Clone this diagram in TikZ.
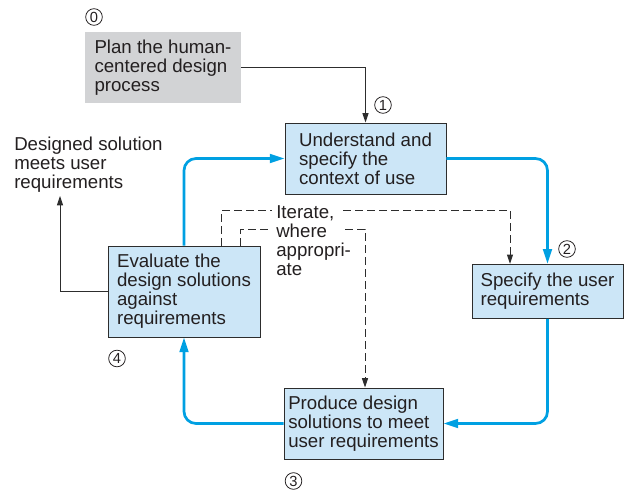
\documentclass[tikz,border=0pt]{standalone}
\usepackage{fontspec}
\setmainfont{Liberation Sans}
\usetikzlibrary{arrows.meta,calc}
\definecolor{bfill}{RGB}{204,230,247}
\definecolor{gfill}{RGB}{210,211,213}
\definecolor{bline}{RGB}{0,160,226}
\definecolor{edge}{RGB}{45,45,45}
\definecolor{ink}{RGB}{35,31,32}
\begin{document}
\begin{tikzpicture}[x=0.75pt,y=-0.75pt,
 txt/.style={font=\fontsize{14}{14.25}\selectfont, text=ink, align=left, inner sep=0pt},
 box/.style={txt, draw=edge, line width=0.7pt, fill=bfill},
 numc/.style={circle, draw=ink, line width=0.6pt, minimum size=12.5pt, inner sep=0pt, text=ink, font=\fontsize{11}{11}\selectfont},
 flow/.style={bline, line width=2pt, rounded corners=9pt, -{Triangle[length=11pt,width=6.5pt]}},
 plain/.style={edge, line width=0.75pt, -{Triangle[length=7pt,width=4.5pt]}},
 iterline/.style={edge, line width=0.75pt, dash pattern=on 6pt off 3pt},
 dtip/.style={-{Triangle[length=7pt,width=4.5pt]}}]
\useasboundingbox (0,0) rectangle (631,492);

\node[box, fill=gfill, draw=none, minimum width=117pt, minimum height=53.25pt] (plan) at (163,67.5) {Plan the human-\\centered design\\process};
\node[box, minimum width=120.75pt, minimum height=53.25pt] (ctx) at (365.5,158.5) {Understand and\\specify the\\context of use};
\node[box, minimum width=113.25pt, minimum height=40.5pt] (req) at (547.5,291.3) {Specify the user\\requirements};
\node[box, minimum width=119.25pt, minimum height=53.25pt] (prod) at (363.5,423.5) {Produce design\\solutions to meet\\user requirements};
\node[box, minimum width=114pt, minimum height=68.25pt] (eval) at (184,291.5) {Evaluate the\\design solutions\\against\\requirements};

\node[txt, anchor=north west] (des) at (14,137) {Designed solution\\meets user\\requirements};
\node[txt, anchor=north west] (itr) at (276,205) {Iterate,\\where\\appropri-\\ate};

\node[numc] (n0) at (94,17) {0};
\node[numc] (n1) at (383,105) {1};
\node[numc] (n2) at (567,249) {2};
\node[numc] (n3) at (293.5,481) {3};
\node[numc] (n4) at (117,358.5) {4};

\draw[plain] (plan.east) -| (ctx.north);
\draw[plain] (eval.west) -| ($(des.south west)+(46,3)$);

\draw[flow] (ctx.east) -| (req.north);
\draw[flow] (req.south) |- (prod.east);
\draw[flow] (prod.west) -| (eval.south);
\draw[flow] (eval.north) |- (ctx.west);

\draw[iterline] ($(eval.north west)+(114,0)$) |- ($(itr.north west)+(-4,5)$);
\draw[iterline, dtip] ($(itr.north west)+(67,5)$) -| ($(req.north)+(-37.5,0)$);
\draw[iterline] ($(eval.north west)+(133,0)$) |- ($(itr.north west)+(-6,24)$);
\draw[iterline, dtip] ($(itr.north west)+(69,24)$) -| ($(prod.north)+(1.5,0)$);
\end{tikzpicture}
\end{document}
